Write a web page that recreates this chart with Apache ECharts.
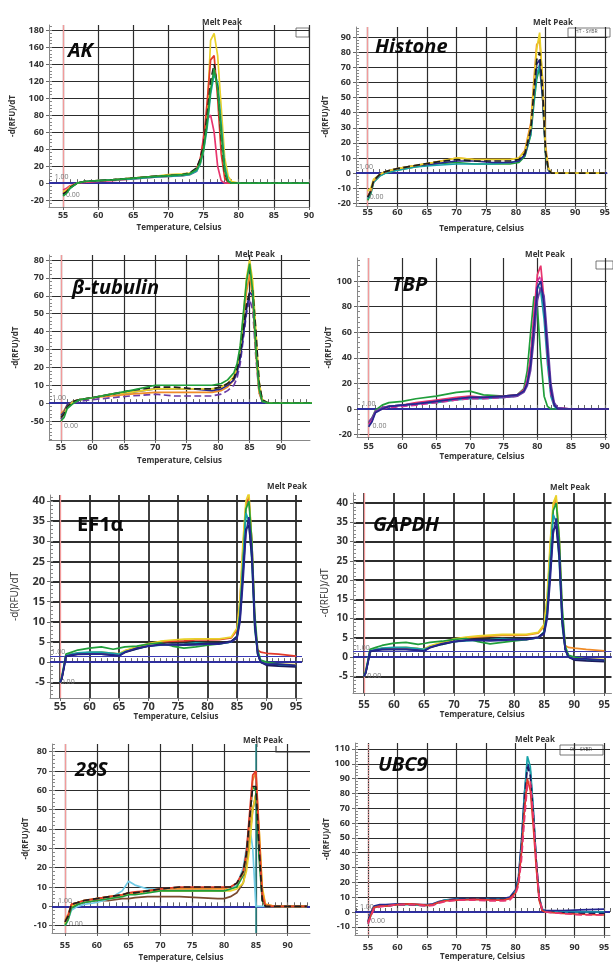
<!DOCTYPE html>
<html>
<head>
<meta charset="utf-8">
<script src="https://cdn.jsdelivr.net/npm/echarts@6/dist/echarts.min.js"></script>
<style>
  html, body { margin: 0; padding: 0; background: #fff; }
  #chart { width: 613px; height: 963px; }
</style>
</head>
<body>
<div id="chart"></div>
<script>
// ---- AK ----
const akTemp = [55, 55.5, 56, 57, 58, 60, 62, 65, 68, 70, 72, 73, 74, 74.5, 75, 75.5, 76, 76.5, 77, 77.5, 78, 78.5, 79, 80, 85, 90];
const akPink = [-8, -6, -3, 0, 1, 2, 3, 5, 7, 8, 9, 10, 14, 25, 55, 75, 80, 60, 20, 3, 0, 0, 0, 0, 0, 0];
const akYellow = [-10, -8, -4, 0, 2, 3, 4, 6, 8, 10, 11, 12, 15, 22, 38, 80, 168, 176, 150, 90, 30, 8, 2, 0, 0, 0];
const akRed = [-12, -10, -5, 0, 2, 3, 4, 6, 8, 9, 10, 11, 17, 28, 50, 95, 145, 150, 100, 35, 6, 1, 0, 0, 0, 0];
const akTeal = [-14, -11, -6, 0, 2, 3, 4, 5, 7, 8, 9, 10, 14, 22, 38, 65, 105, 128, 118, 70, 20, 3, 0, 0, 0, 0];
const akBlack = [-13, -10, -5, 0, 2, 3, 4, 6, 8, 9, 10, 12, 18, 28, 45, 80, 120, 140, 112, 55, 12, 1, 0, 0, 0, 0];
const akGreen = [-15, -12, -6, 0, 2, 3, 4, 6, 8, 9, 10, 11, 16, 24, 40, 70, 110, 135, 110, 60, 15, 2, 0, 0, 0, 0];
const akYTicks = [-20, 0, 20, 40, 60, 80, 100, 120, 140, 160, 180];
const akXTicks = [55, 60, 65, 70, 75, 80, 85, 90];

// ---- Histone ----
const histTemp = [55, 55.5, 56, 57, 58, 60, 63, 66, 70, 73, 76, 79, 80.5, 81.5, 82.5, 83, 83.5, 84, 84.5, 85, 85.5, 86, 88, 90, 95];
const histGreen = [-18, -14, -6, -2, 0, 2, 4, 6, 7, 6, 6, 6, 7, 11, 25, 45, 62, 70, 50, 12, 2, 0, 0, 0, 0];
const histTeal = [-17, -13, -6, -2, 0, 2, 4, 5, 6, 6, 6, 7, 8, 12, 26, 48, 65, 72, 55, 14, 2, 0, 0, 0, 0];
const histNavy = [-16, -12, -5, -1, 1, 3, 5, 6, 8, 8, 7, 7, 8, 12, 28, 52, 72, 75, 50, 14, 2, 0, 0, 0, 0];
const histOrange = [-15, -12, -5, -1, 1, 3, 5, 7, 10, 9, 9, 9, 10, 15, 33, 60, 85, 88, 62, 18, 3, 0, 0, 0, 0];
const histYellow = [-12, -10, -4, -1, 1, 3, 5, 7, 10, 9, 9, 9, 10, 14, 30, 55, 82, 93, 60, 15, 3, 0, 0, 0, 0];
const histBlack = [-16, -12, -5, -1, 1, 3, 5, 7, 9, 8, 8, 8, 9, 13, 29, 53, 75, 80, 55, 14, 2, 0, 0, 0, 0];
const histYTicks = [-20, -10, 0, 10, 20, 30, 40, 50, 60, 70, 80, 90];
const histXTicks = [55, 60, 65, 70, 75, 80, 85, 90, 95];

// ---- beta-tubulin ----
const btubTemp = [55, 55.5, 56, 57, 58, 60, 63, 66, 70, 73, 76, 79, 80.5, 81.5, 82.5, 83, 83.5, 84, 84.5, 85, 85.5, 86, 86.5, 87, 88, 90, 95];
const btubPurple = [-9, -6, -2, 0, 1, 2, 3, 4, 5, 4, 4, 4, 5, 7, 10, 14, 22, 36, 50, 58, 52, 25, 6, 1, 0, 0, 0];
const btubOrange = [-6, -4, -1, 1, 2, 3, 4, 5, 6, 6, 6, 6, 7, 9, 13, 18, 28, 45, 62, 72, 58, 28, 6, 1, 0, 0, 0];
const btubNavy = [-7, -5, -1, 1, 2, 3, 5, 6, 8, 8, 8, 7, 8, 10, 13, 17, 25, 38, 52, 62, 60, 35, 10, 1, 0, 0, 0];
const btubYellow = [-8, -6, -2, 1, 2, 3, 5, 6, 8, 8, 8, 8, 9, 11, 15, 20, 30, 48, 70, 80, 68, 40, 12, 2, 0, 0, 0];
const btubBlack = [-8, -6, -2, 1, 2, 3, 5, 7, 9, 9, 8, 8, 9, 11, 14, 19, 28, 42, 55, 62, 63, 40, 12, 2, 0, 0, 0];
const btubGreen = [-10, -8, -3, 0, 2, 3, 5, 7, 10, 10, 10, 10, 11, 13, 17, 22, 32, 50, 68, 78, 62, 30, 8, 1, 0, 0, 0];
const btubYTicks = [-10, 0, 10, 20, 30, 40, 50, 60, 70, 80];
const btubYLabels = ['-50', '0', '10', '20', '30', '40', '50', '60', '70', '80'];
const btubXTicks = [55, 60, 65, 70, 75, 80, 85, 90];

// ---- TBP ----
const tbpTemp = [55, 55.5, 56, 57, 58, 60, 62, 65, 68, 70, 72, 75, 77, 78, 78.5, 79, 79.5, 80, 80.5, 81, 81.5, 82, 82.5, 83, 85, 88, 91];
const tbpGreen = [-11, -7, -1, 3, 5, 6, 8, 10, 13, 14, 11, 10, 11, 16, 30, 60, 88, 80, 40, 10, 2, 0, 0, 0, 0, 0, 0];
const tbpTeal = [-13, -9, -2, 1, 2, 3, 4, 5, 7, 8, 8, 9, 10, 14, 21, 38, 70, 98, 92, 70, 35, 10, 2, 0, 0, 0, 0];
const tbpPink = [-12, -8, -2, 1, 2, 3, 5, 7, 9, 10, 9, 10, 11, 15, 22, 40, 75, 105, 112, 85, 45, 15, 4, 1, 0, 0, 0];
const tbpMagenta = [-12, -9, -2, 0, 1, 2, 3, 5, 7, 8, 8, 9, 10, 14, 22, 40, 72, 100, 104, 82, 42, 12, 3, 0, 0, 0, 0];
const tbpPurple = [-10, -7, -2, 1, 2, 3, 4, 6, 8, 9, 9, 9, 10, 13, 18, 30, 55, 85, 95, 88, 55, 20, 5, 1, 0, 0, 0];
const tbpNavy = [-14, -10, -3, 0, 2, 3, 4, 6, 8, 9, 9, 10, 11, 14, 20, 35, 65, 95, 100, 80, 45, 15, 3, 0, 0, 0, 0];
const tbpYTicks = [-20, 0, 20, 40, 60, 80, 100];
const tbpXTicks = [55, 60, 65, 70, 75, 80, 85, 90];

// ---- EF1a ----
const ef1Temp = [55, 55.3, 55.7, 56, 57, 58, 60, 62, 64, 65, 66, 68, 70, 72, 74, 76, 78, 80, 82, 84, 85, 85.5, 86, 86.5, 87, 87.5, 88, 88.5, 89, 90, 92, 95];
const ef1Orange = [-5, -4, -0.8, 1.8, 2, 2.2, 2.4, 2.4, 2.2, 2, 2.8, 3.6, 4.5, 5, 5.2, 5.3, 5.5, 5.5, 5.6, 6, 8, 15, 28, 39, 41, 30, 10, 3, 2.5, 2.2, 2, 1.5];
const ef1Yellow = [-5, -3.8, -0.8, 1.7, 2, 2.2, 2.4, 2.5, 2.2, 2.1, 2.9, 3.8, 4.6, 5.2, 5.5, 5.7, 5.8, 5.8, 5.8, 6.2, 8.5, 16, 30, 40, 42, 30, 9, 2, 0, -0.3, -0.5, -0.6];
const ef1Green = [-5, -3.5, -0.5, 2, 2.5, 3, 3.5, 3.8, 3.2, 3.5, 3.8, 4, 4.5, 4.8, 4, 3.5, 3.8, 4.2, 4.5, 5, 6.5, 12, 24, 38, 40, 30, 12, 3, 0.5, 0, -0.5, -1];
const ef1Teal = [-5, -4, -1, 1.6, 2, 2.3, 2.5, 2.5, 2.2, 2, 2.6, 3.3, 4, 4.2, 4.4, 4.5, 4.8, 4.6, 4.6, 5, 6.5, 12, 25, 37, 35, 25, 8, 2, 0, -0.5, -0.8, -1];
const ef1Navy = [-5, -4, -1, 1.5, 1.8, 2, 2, 2, 1.8, 1.5, 2.5, 3.5, 4, 4.3, 4.3, 4.2, 4.3, 4.5, 4.5, 5, 6, 10, 20, 32, 36, 28, 10, 2, 0, -0.5, -0.5, -0.8];
const ef1Dark = [-5, -4.2, -1.2, 1.4, 1.7, 1.9, 2, 2, 1.7, 1.6, 2.4, 3.3, 4, 4.4, 4.5, 4.4, 4.5, 4.6, 4.7, 5.2, 6.3, 11, 22, 33, 34, 26, 9, 2, 0, -0.8, -1, -1.2];
const ef1YTicks = [-5, 0, 5, 10, 15, 20, 25, 30, 35, 40];
const ef1XTicks = [55, 60, 65, 70, 75, 80, 85, 90, 95];

// ---- GAPDH ----
const gapTemp = [55, 55.3, 55.7, 56, 57, 58, 60, 62, 64, 65, 66, 68, 70, 72, 74, 76, 78, 80, 82, 84, 85, 85.5, 86, 86.5, 87, 87.5, 88, 88.5, 89, 90, 92, 95];
const gapOrange = [-5, -4, -0.8, 1.8, 2, 2.2, 2.4, 2.4, 2.2, 2, 2.8, 3.6, 4.6, 5, 5.2, 5.4, 5.6, 5.6, 5.7, 6.2, 8, 15, 28, 39, 41, 31, 11, 3, 2.5, 2.3, 2, 1.6];
const gapYellow = [-5, -3.8, -0.8, 1.7, 2, 2.2, 2.4, 2.5, 2.2, 2.1, 2.9, 3.8, 4.7, 5.2, 5.5, 5.7, 5.9, 5.9, 5.9, 6.4, 8.5, 16, 30, 40, 42, 30, 9, 2, 0, -0.3, -0.5, -0.6];
const gapGreen = [-5, -3.5, -0.5, 2, 2.5, 3, 3.6, 3.8, 3.3, 3.5, 3.8, 4.1, 4.6, 4.8, 4, 3.4, 3.8, 4.2, 4.5, 5, 6.5, 12, 24, 38, 40, 31, 13, 3, 0.5, 0, -0.6, -1];
const gapTeal = [-5, -4, -1, 1.6, 2, 2.3, 2.5, 2.5, 2.2, 2, 2.6, 3.3, 4, 4.2, 4.4, 4.5, 4.8, 4.6, 4.6, 5, 6.5, 12, 25, 37, 35, 25, 8, 2, 0, -0.5, -0.8, -1];
const gapNavy = [-5, -4, -1, 1.5, 1.8, 2, 2, 2, 1.8, 1.5, 2.5, 3.5, 4, 4.3, 4.3, 4.2, 4.3, 4.5, 4.5, 5, 6, 10, 20, 32, 36, 28, 10, 2, 0, -0.5, -0.5, -0.8];
const gapDark = [-5, -4.2, -1.2, 1.4, 1.7, 1.9, 2, 2, 1.7, 1.6, 2.4, 3.3, 4, 4.4, 4.5, 4.4, 4.5, 4.6, 4.7, 5.2, 6.3, 11, 22, 33, 34, 26, 9, 2, 0, -0.8, -1, -1.2];
const gapYTicks = [-5, 0, 5, 10, 15, 20, 25, 30, 35, 40];
const gapXTicks = [55, 60, 65, 70, 75, 80, 85, 90, 95];

// ---- 28S ----
const s28Temp = [55, 55.5, 56, 57, 58, 60, 62, 64, 65, 66, 68, 70, 73, 76, 79, 80, 81, 82, 83, 83.5, 84, 84.5, 85, 85.5, 86, 86.5, 88, 90, 93];
const s28Brown = [-9, -6, 0, 1, 2, 3, 3, 4, 4, 4.5, 5, 5, 5, 4.5, 4, 4, 5, 7, 12, 20, 35, 50, 58, 30, 4, 0, 0, 0, 0];
const s28Cyan = [-10, -7, -2, 0, 1, 2, 4, 8, 13, 11, 9, 9, 9, 9, 8, 8, 9, 11, 20, 30, 42, 30, 0, 0, 0, 0, 0, 0, 0];
const s28Yellow = [-9, -6, 0, 2, 3, 4, 5, 6, 6.5, 7, 8, 8, 8, 8, 8, 8, 8, 9, 12, 18, 30, 50, 58, 40, 10, 1, 0, 0, 0];
const s28Green = [-10, -7, -1, 1, 2, 3, 4, 5, 6, 6, 7, 8, 8, 8, 8, 8, 9, 10, 16, 25, 45, 62, 60, 25, 3, 0, 0, 0, 0];
const s28Orange = [-7, -4, 1, 2, 3, 4, 5, 6, 7, 7, 8, 9, 9, 9, 9, 9, 10, 12, 17, 25, 42, 65, 70, 40, 8, 1, 0, 0, 0];
const s28Red = [-8, -5, 1, 2, 3, 4, 5, 6, 7, 7.5, 8, 9, 10, 10, 10, 10, 10, 12, 18, 28, 48, 68, 70, 35, 5, 0, 0, 0, 0];
const s28Black = [-8, -5, 1, 2, 3, 4, 5, 6, 7, 7, 8, 9, 10, 10, 10, 10, 10, 12, 18, 27, 45, 62, 62, 30, 3, 0, 0, 0, 0];
const s28YTicks = [-10, 0, 10, 20, 30, 40, 50, 60, 70, 80];
const s28XTicks = [55, 60, 65, 70, 75, 80, 85, 90];

// ---- UBC9 ----
const ubcTemp = [55, 55.5, 56, 57, 58, 60, 62, 64, 65, 66, 67, 68, 70, 73, 76, 78, 79, 80, 80.5, 81, 81.5, 82, 82.5, 83, 83.5, 84, 84.5, 85, 88, 91, 95];
const ubcNavy = [-6, 0, 4, 5, 5, 5.5, 5.5, 5, 5, 5.5, 7, 8, 9, 9, 9, 9, 10, 15, 24, 48, 80, 100, 95, 68, 35, 10, 2, 1, 1, 1.5, 2];
const ubcTeal = [-8, -2, 3, 4, 4, 5, 5, 4.5, 4.5, 5, 6.5, 8, 8.5, 8.5, 8.5, 8.5, 9, 14, 22, 45, 78, 105, 98, 70, 35, 10, 2, 0, 0, 0, 0];
const ubcDark = [-7, -2, 3, 4, 4, 5, 5, 4.5, 4.5, 5, 6.5, 7.5, 8.5, 9, 8.5, 8.5, 9, 14, 21, 44, 74, 98, 92, 66, 33, 9, 1, 0, -0.5, -1, -1];
const ubcRed = [-7, -2, 3, 4, 4, 5, 5.5, 5, 4.5, 5, 6.5, 7.5, 8, 8.5, 8, 8, 9, 13, 20, 40, 68, 90, 82, 58, 30, 8, 1, 0, -1, -1.5, -2];
const ubcPink = [-8, -3, 2, 3.5, 4, 5, 5, 4.5, 4, 4.5, 6, 7, 8, 8, 7.5, 7.5, 8, 12, 18, 35, 62, 85, 88, 65, 35, 10, 2, 0, -1, -2, -2];
const ubcYTicks = [-10, 0, 10, 20, 30, 40, 50, 60, 70, 80, 90, 100, 110];
const ubcXTicks = [55, 60, 65, 70, 75, 80, 85, 90, 95];

const C = {
  green: '#1f9e3a', yellow: '#e9d12a', red: '#e23a2a', teal: '#17a3a8', black: '#1e1e1e',
  navy: '#26268f', orange: '#f08c28', pink: '#e8356e', purple: '#6b3da6', cyan: '#72cbe6',
  brown: '#7b4a2e', magenta: '#cf2d9c', dark: '#1b1b5e'
};

// layout: box = plot area in px, x/y = visible axis range
const panels = [
  { gene: 'AK', temp: akTemp, xTicks: akXTicks, yTicks: akYTicks,
    lines: [[akPink, C.pink], [akYellow, C.yellow], [akRed, C.red], [akTeal, C.teal], [akBlack, C.black, 'dashed'], [akGreen, C.green]],
    box: [49, 25, 260, 182], x: [53, 90], y: [-28, 186], yStep: 4,
    title: [217, 14], geneAt: [63, 36], nameGap: [32, 17], labelMargin: 4, font: 9,
    thr: [[54.8, 7], [56.4, -14]] },
  { gene: 'Histone', temp: histTemp, xTicks: histXTicks, yTicks: histYTicks,
    lines: [[histGreen, C.green], [histTeal, C.teal], [histNavy, C.navy], [histOrange, C.orange], [histYellow, C.yellow], [histBlack, C.black, 'dashed']],
    box: [356, 27, 257, 179], x: [53.02, 95.4], y: [-21.8, 96.7], yStep: 2,
    title: [548, 14], geneAt: [370, 32], nameGap: [26, 19], labelMargin: 2, font: 9,
    thr: [[54.7, 4], [56.5, -16]] },
  { gene: '\u03b2-tubulin', temp: btubTemp, xTicks: btubXTicks, yTicks: btubYTicks, yLabels: btubYLabels,
    lines: [[btubPurple, C.purple, 'dashed'], [btubOrange, C.orange], [btubNavy, C.navy], [btubYellow, C.yellow], [btubBlack, C.black, 'dashed'], [btubGreen, C.green]],
    box: [49, 255, 261, 185], x: [53.1, 94.6], y: [-20.6, 82.8], yStep: 2,
    title: [250, 246], geneAt: [67, 273], nameGap: [29, 17], labelMargin: 3, font: 9,
    thr: [[54.7, 2.8], [56.6, -13]] },
  { gene: 'TBP', temp: tbpTemp, xTicks: tbpXTicks, yTicks: tbpYTicks,
    lines: [[tbpGreen, C.green], [tbpTeal, C.teal], [tbpPink, C.pink], [tbpMagenta, C.magenta, 'dashed'], [tbpPurple, C.purple], [tbpNavy, C.navy]],
    box: [357, 258, 256, 179], x: [53.27, 90.3], y: [-21.9, 118], yStep: 4,
    title: [540, 246], geneAt: [387, 270], nameGap: [22, 16], labelMargin: 5, font: 9,
    thr: [[55.0, 4], [56.6, -13]] },
  { gene: 'EF1\u03b1', upright: true, temp: ef1Temp, xTicks: ef1XTicks, yTicks: ef1YTicks, twin: true,
    lines: [[ef1Orange, C.red], [ef1Yellow, C.yellow], [ef1Green, C.green], [ef1Teal, C.teal], [ef1Dark, C.dark], [ef1Navy, C.navy]],
    box: [50, 495, 252, 203], x: [53.3, 96], y: [-8.9, 41.5], yStep: 1,
    title: [282, 478], geneAt: [72, 510], nameGap: [30, 15], labelMargin: 3, font: 11, thick: true,
    thr: [[54.7, 2.5], [56.3, -5]] },
  { gene: 'GAPDH', temp: gapTemp, xTicks: gapXTicks, yTicks: gapYTicks, twin: true,
    lines: [[gapOrange, C.orange], [gapYellow, C.yellow], [gapGreen, C.green], [gapTeal, C.teal], [gapDark, C.dark], [gapNavy, C.navy]],
    box: [353, 493, 259, 200], x: [53.17, 96.2], y: [-9.35, 42.6], yStep: 1,
    title: [565, 479], geneAt: [368, 510], nameGap: [23, 16], labelMargin: 7, font: 10, thick: true,
    thr: [[54.8, 2.3], [56.7, -5]] },
  { gene: '28S', temp: s28Temp, xTicks: s28XTicks, yTicks: s28YTicks, cursor: 85,
    lines: [[s28Brown, C.brown], [s28Cyan, C.cyan], [s28Yellow, C.yellow], [s28Green, C.green], [s28Orange, C.orange], [s28Red, C.red], [s28Black, C.black, 'dashed']],
    box: [52, 744, 258, 191], x: [52.96, 93.5], y: [-13.8, 84], yStep: 2,
    title: [258, 732], geneAt: [70, 755], nameGap: [22, 21], labelMargin: 8, font: 9,
    thr: [[55.0, 3], [56.7, -9]] },
  { gene: 'UBC9', temp: ubcTemp, xTicks: ubcXTicks, yTicks: ubcYTicks, dottedRed: true,
    lines: [[ubcNavy, C.navy], [ubcTeal, C.teal], [ubcDark, C.dark, 'dashed'], [ubcRed, C.red], [ubcPink, C.pink, 'dashed']],
    box: [355, 743, 255, 192], x: [52.8, 96], y: [-15.5, 114], yStep: 2,
    title: [530, 731], geneAt: [373, 750], nameGap: [18, 17], labelMargin: 8, font: 9,
    thr: [[54.8, 3.4], [56.7, -6]] }
];

function steps(a, b, s) {
  const out = [];
  for (let v = Math.ceil(a / s) * s; v <= b + 1e-9; v += s) out.push(+v.toFixed(3));
  return out;
}

const chart = echarts.init(document.getElementById('chart'), null, { renderer: 'canvas' });

const grid = [], xAxis = [], yAxis = [], series = [], title = [];
const gridColor = '#2c2c2c';

panels.forEach((p, i) => {
  const [l, t, w, h] = p.box;
  grid.push({ left: l, top: t, width: w, height: h, containLabel: false });
  const splitW = p.thick ? 1.8 : 1.2;
  // main axes
  xAxis.push({
    type: 'value', gridIndex: i, position: 'bottom', min: p.x[0], max: p.x[1],
    name: 'Temperature, Celsius', nameLocation: 'middle', nameGap: p.nameGap[1],
    nameTextStyle: { fontSize: 8, fontWeight: 'bold', color: '#333', fontFamily: 'Open Sans', verticalAlign: 'top' },
    axisLine: { show: true, onZero: false, lineStyle: { color: '#888', width: 1 } },
    axisTick: { show: true, customValues: p.xTicks, length: 3, lineStyle: { color: '#666' } },
    axisLabel: { customValues: p.xTicks, margin: p.labelMargin, fontSize: p.font, fontWeight: 'bold', color: '#333', fontFamily: 'Open Sans', showMinLabel: true, showMaxLabel: true },
    splitLine: { show: true, lineStyle: { color: gridColor, width: splitW } }
  });
  xAxis.push({
    type: 'value', gridIndex: i, position: 'bottom', min: p.x[0], max: p.x[1],
    axisLine: { show: false },
    axisTick: { show: true, inside: true, length: 4, customValues: steps(p.x[0], p.x[1], 1), lineStyle: { color: '#666' } },
    axisLabel: { show: false }, splitLine: { show: false }
  });
  const labels = p.yLabels;
  yAxis.push({
    type: 'value', gridIndex: i, position: 'left', min: p.y[0], max: p.y[1],
    name: '-d(RFU)/dT', nameLocation: 'middle', nameGap: p.nameGap[0], nameRotate: 90,
    nameTextStyle: { fontSize: p.thick ? 10 : 8, fontWeight: p.thick ? 'normal' : 'bold', color: '#333', fontFamily: 'Open Sans' },
    axisLine: { show: true, lineStyle: { color: '#888', width: 1 } },
    axisTick: { show: true, customValues: p.yTicks, length: 3, lineStyle: { color: '#666' } },
    axisLabel: {
      customValues: p.yTicks, margin: 5, fontSize: p.font, fontWeight: 'bold', color: '#333', fontFamily: 'Open Sans',
      formatter: labels ? (v) => labels[p.yTicks.indexOf(v)] : (v) => String(v)
    },
    splitLine: { show: true, lineStyle: { color: gridColor, width: splitW } }
  });
  yAxis.push({
    type: 'value', gridIndex: i, position: 'left', min: p.y[0], max: p.y[1],
    axisLine: { show: false },
    axisTick: { show: true, inside: true, length: 3, customValues: steps(p.y[0], p.y[1], p.yStep), lineStyle: { color: '#888' } },
    axisLabel: { show: false }, splitLine: { show: false }
  });

  title.push({
    text: 'Melt Peak', left: p.title[0], top: p.title[1], textAlign: 'center',
    textStyle: { fontSize: 8, fontWeight: 'bold', color: '#333', fontFamily: 'Open Sans' }
  });
  title.push({
    text: p.gene, left: p.geneAt[0], top: p.geneAt[1],
    textStyle: { fontSize: 20, fontWeight: 'bold', fontStyle: p.upright ? 'normal' : 'italic', color: '#0a0a0a', fontFamily: 'Open Sans' }
  });

  const marks = [
    { xAxis: 55, lineStyle: { color: '#f29a9a', width: 1.3, type: p.dottedRed ? 'dotted' : 'solid' } },
    { yAxis: 0, lineStyle: { color: '#2e2e9e', width: 2, type: 'solid' } }
  ];
  if (p.twin) marks.push({ yAxis: 1.4, lineStyle: { color: '#3a3ab4', width: 1.2, type: 'solid' } });
  if (p.cursor) marks.push({ xAxis: p.cursor, lineStyle: { color: '#2a8a8a', width: 1.5, type: 'solid' } });

  p.lines.forEach((ln, k) => {
    const s = {
      type: 'line', xAxisIndex: 2 * i, yAxisIndex: 2 * i,
      data: p.temp.map((tv, j) => [tv, ln[0][j]]),
      showSymbol: false, symbol: 'none', silent: true, animation: false,
      lineStyle: { color: ln[1], width: 1.7, type: ln[2] || 'solid' },
      z: 3 + k
    };
    if (k === 0) {
      s.markLine = { silent: true, symbol: 'none', animation: false, label: { show: false }, data: marks, z: 2 };
      s.markPoint = {
        silent: true, symbol: 'rect', symbolSize: 0, animation: false,
        label: { show: true, color: '#777', fontSize: 7, fontFamily: 'Open Sans' },
        data: [
          { coord: p.thr[0], label: { formatter: '1.00' } },
          { coord: p.thr[1], label: { formatter: '0.00' } }
        ]
      };
    }
    series.push(s);
  });
});

const graphic = [
  // legend boxes at top right of some panels
  { type: 'rect', shape: { x: 296, y: 28, width: 13, height: 9 }, style: { fill: '#fff', stroke: '#555', lineWidth: 0.8 } },
  { type: 'rect', shape: { x: 568, y: 28, width: 42, height: 9 }, style: { fill: '#fff', stroke: '#555', lineWidth: 0.8 } },
  { type: 'text', left: 575, top: 29, style: { text: 'HT - SYBR', fontSize: 5, fill: '#555', fontFamily: 'Open Sans' } },
  { type: 'rect', shape: { x: 596, y: 261, width: 17, height: 8 }, style: { fill: '#fff', stroke: '#555', lineWidth: 0.8 } },
  { type: 'rect', shape: { x: 560, y: 745, width: 43, height: 10 }, style: { fill: '#fff', stroke: '#555', lineWidth: 0.8 } },
  { type: 'text', left: 570, top: 747, style: { text: '06 - SYBR', fontSize: 5, fill: '#555', fontFamily: 'Open Sans' } },
  // 28S bracket
  { type: 'polyline', shape: { points: [[276, 746], [276, 752], [310, 752]] }, style: { stroke: '#444', lineWidth: 1.2, fill: null } },
  { type: 'line', shape: { x1: 257, y1: 741, x2: 257, y2: 747 }, style: { stroke: '#666', lineWidth: 1 } }
];

chart.setOption({
  backgroundColor: '#ffffff',
  animation: false,
  title, grid, xAxis, yAxis, series, graphic
});
</script>
</body>
</html>
